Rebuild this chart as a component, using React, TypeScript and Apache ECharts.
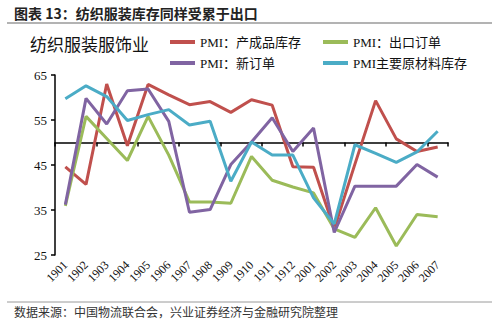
import React, { useEffect, useRef } from "react";
import * as echarts from "echarts";

const categories = ["1901","1902","1903","1904","1905","1906","1907","1908","1909","1910","1911","1912","2001","2002","2003","2004","2005","2006","2007"];
const finishedInventory = [44.6,40.7,63.0,49.3,62.9,60.6,58.4,59.1,56.7,59.5,58.3,44.6,44.5,30.8,45.2,59.3,50.8,48.0,49.0];
const exportOrders = [35.9,55.8,50.9,46.0,55.8,47.2,36.8,36.8,36.5,46.9,41.6,40.1,38.8,30.8,28.9,35.5,27.0,34.0,33.5];
const newOrders = [36.2,59.8,54.1,61.5,61.9,54.7,34.5,35.1,45.1,50.1,55.5,48.0,53.2,30.0,40.3,40.3,40.3,45.1,42.3];
const rawInventory = [59.7,62.6,60.2,54.9,56.2,57.3,53.9,54.7,41.4,50.1,47.2,47.2,37.7,31.9,49.5,47.6,45.6,47.9,52.5];
const yTicks = { min: 25, max: 65, interval: 10 };

const seriesNames = ["PMI：产成品库存", "PMI：出口订单", "PMI：新订单", "PMI主要原材料库存"];
const colors = ["#C0504D", "#9BBB59", "#8064A2", "#4BACC6"];

const SERIF = "'Liberation Serif', 'Times New Roman', 'Noto Sans CJK SC', serif";
const CJK = "'Noto Sans CJK SC', sans-serif";

export default function App() {
  const ref = useRef<HTMLDivElement>(null);
  useEffect(() => {
    document.body.style.margin = "0";
    const chart = echarts.init(ref.current!, null, { renderer: "svg" });
    const gridTop = 75;
    const gridBottom = 70;
    const gridH = 325 - gridTop - gridBottom;
    const refLineOffset = -((50 - yTicks.min) / (yTicks.max - yTicks.min)) * gridH;
    const dataSets = [finishedInventory, exportOrders, newOrders, rawInventory];
    chart.setOption({
      animation: false,
      backgroundColor: "#fff",
      grid: { left: 55, right: 52, top: gridTop, bottom: gridBottom, containLabel: false },
      legend: [
        {
          orient: "vertical",
          left: 165,
          top: 30,
          itemWidth: 25,
          itemHeight: 4,
          itemGap: 7,
          icon: "rect",
          data: [seriesNames[0], seriesNames[2]],
          textStyle: { fontFamily: SERIF, fontSize: 13, color: "#111", lineHeight: 14 },
        },
        {
          orient: "vertical",
          left: 318,
          top: 30,
          itemWidth: 25,
          itemHeight: 4,
          itemGap: 7,
          icon: "rect",
          data: [seriesNames[1], seriesNames[3]],
          textStyle: { fontFamily: SERIF, fontSize: 13, color: "#111", lineHeight: 14 },
        },
      ],
      xAxis: [
        {
          type: "category",
          data: categories,
          boundaryGap: true,
          axisLine: { show: false },
          axisTick: { show: false },
          axisLabel: {
            rotate: 45,
            interval: 0,
            margin: 8,
            fontFamily: SERIF,
            fontSize: 12,
            color: "#111",
          },
        },
        {
          type: "category",
          data: categories,
          boundaryGap: true,
          position: "bottom",
          offset: refLineOffset,
          axisLine: { show: true, lineStyle: { color: "#000", width: 1.5 } },
          axisTick: { show: true, length: 4, lineStyle: { color: "#000", width: 1.5 } },
          axisLabel: { show: false },
        },
      ],
      yAxis: {
        type: "value",
        min: yTicks.min,
        max: yTicks.max,
        interval: yTicks.interval,
        splitLine: { show: false },
        axisLine: { show: true, lineStyle: { color: "#000", width: 1.5 } },
        axisTick: { show: true, length: 4, lineStyle: { color: "#000", width: 1.5 } },
        axisLabel: { fontFamily: SERIF, fontSize: 13, color: "#111", margin: 8 },
      },
      series: dataSets.map((d, i) => ({
        name: seriesNames[i],
        type: "line",
        data: d,
        xAxisIndex: 0,
        symbol: "none",
        lineStyle: { width: 3, color: colors[i] },
        itemStyle: { color: colors[i] },
      })),
      graphic: [
        {
          type: "text",
          left: 14,
          top: 6,
          style: {
            text: "图表 13：纺织服装库存同样受累于出口",
            fontFamily: CJK,
            fontSize: 14,
            fontWeight: "bold",
            fill: "#222",
          },
        },
        {
          type: "line",
          shape: { x1: 7, y1: 23, x2: 492, y2: 23 },
          style: { stroke: "#9a9a9a", lineWidth: 1.5 },
        },
        {
          type: "text",
          left: 30,
          top: 35,
          style: {
            text: "纺织服装服饰业",
            fontFamily: CJK,
            fontSize: 17,
            fill: "#111",
          },
        },
        {
          type: "line",
          shape: { x1: 7, y1: 302, x2: 492, y2: 302 },
          style: { stroke: "#9a9a9a", lineWidth: 1 },
        },
        {
          type: "text",
          left: 14,
          top: 305,
          style: {
            text: "数据来源：中国物流联合会，兴业证券经济与金融研究院整理",
            fontFamily: CJK,
            fontSize: 12,
            fill: "#333",
          },
        },
      ],
    });
    return () => chart.dispose();
  }, []);
  return <div ref={ref} style={{ width: 500, height: 325 }} />;
}
